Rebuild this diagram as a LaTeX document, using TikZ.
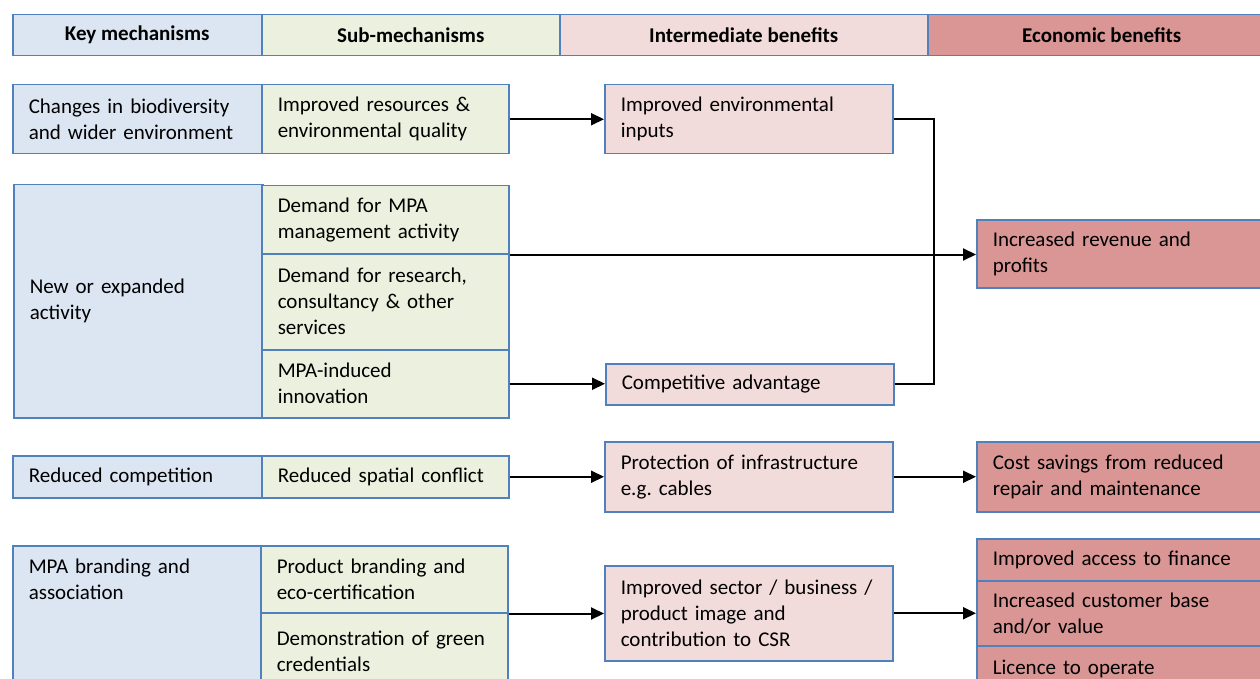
\documentclass[tikz,border=0pt]{standalone}
\usepackage{fontspec}
\setmainfont{Carlito}
\usetikzlibrary{arrows.meta}

\definecolor{cellborder}{HTML}{4F81BD}
\definecolor{keyfill}{HTML}{DCE6F2}
\definecolor{subfill}{HTML}{EBF1DE}
\definecolor{intfill}{HTML}{F2DCDB}
\definecolor{ecofill}{HTML}{D99694}

\tikzset{
  cell/.style={draw=cellborder, line width=1.5pt, anchor=north west, align=left,
    inner xsep=16pt, inner ysep=0pt, font=\fontsize{21}{26}\selectfont},
  head/.style={cell, align=center, minimum height=41pt, font=\fontsize{21}{26}\selectfont\bfseries},
  keycol/.style={cell, fill=keyfill, minimum width=249pt, text width=217pt},
  subcol/.style={cell, fill=subfill, minimum width=247pt, text width=215pt},
  intcol/.style={cell, fill=intfill, minimum width=288pt, text width=256pt},
  ecocol/.style={cell, fill=ecofill, minimum width=300pt, text width=268pt},
  flow/.style={-{Triangle[length=13pt,width=12pt]}, line width=2pt},
  link/.style={line width=2pt}
}

\begin{document}
\begin{tikzpicture}[x=1pt, y=-1pt]
  \useasboundingbox (0,0) rectangle (1260,679);
  \clip (0,0) rectangle (1260,679);

  % Column headings
  \node[head, fill=keyfill, minimum width=249pt] (hkey) at (12,14) {Key mechanisms};
  \node[head, fill=subfill, minimum width=298pt] (hsub) at (261,14) {Sub-mechanisms};
  \node[head, fill=intfill, minimum width=368pt] (hint) at (559,14) {Intermediate benefits};
  \node[head, fill=ecofill, minimum width=348pt] (heco) at (927,14) {Economic benefits};

  % Environment
  \node[keycol, minimum height=69pt] (k1) at (12,84) {Changes in biodiversity\\and wider environment};
  \node[subcol, minimum height=69pt] (s1) at (261,84) {Improved resources \&\\environmental quality};
  \node[intcol, minimum height=69pt] (i1) at (604,84) {Improved environmental\\inputs};

  % New activity
  \node[keycol, minimum height=233pt] (k2) at (13,184) {New or expanded\\activity};
  \node[subcol, minimum height=68pt] (s2a) at (261,185) {Demand for MPA\\management activity};
  \node[subcol, minimum height=96pt] (s2b) at (261,253) {Demand for research,\\consultancy \& other\\services};
  \node[subcol, minimum height=68pt] (s2c) at (261,349) {MPA-induced\\innovation};
  \node[intcol, minimum height=41pt] (i2) at (605,363) {Competitive advantage};
  \node[ecocol, minimum height=68pt] (e1) at (976,219) {Increased revenue and\\profits};

  % Competition
  \node[keycol, minimum height=42pt] (k3) at (12,455) {Reduced competition};
  \node[subcol, minimum height=42pt] (s3) at (261,455) {Reduced spatial conflict};
  \node[intcol, minimum height=70pt] (i3) at (604,441) {Protection of infrastructure\\e.g.\ cables};
  \node[ecocol, minimum height=70pt] (e2) at (976,441) {Cost savings from reduced\\repair and maintenance};

  % Branding
  \node[keycol, minimum width=248pt, inner ysep=13pt, text height=15pt, text depth=140pt] (k4) at (12,545) {MPA branding and\\association};
  \node[subcol, minimum height=67pt] (s4a) at (260,545) {Product branding and\\eco-certification};
  \node[subcol, minimum height=78pt] (s4b) at (260,612) {Demonstration of green\\credentials};
  \node[intcol, minimum height=95pt] (i4) at (604,565) {Improved sector / business /\\product image and\\contribution to CSR};
  \node[ecocol, minimum height=42pt] (e3a) at (976,538) {Improved access to finance};
  \node[ecocol, minimum height=65pt] (e3b) at (976,580) {Increased customer base\\and/or value};
  \node[ecocol, minimum height=46pt] (e3c) at (976,645) {Licence to operate};

  % Connectors
  \coordinate (jn) at (934,253);
  \draw[flow] (s1.east) -- (s1.east -| i1.west);
  \draw[link] (i1.east) -| (jn);
  \draw[link] (i2.east) -| (jn);
  \draw[flow] (s2a.south east) -- (s2a.south east -| e1.west);
  \draw[flow] (s2c.east) -- (s2c.east -| i2.west);
  \draw[flow] (s3.east) -- (s3.east -| i3.west);
  \draw[flow] (i3.east) -- (i3.east -| e2.west);
  \draw[flow] (s4a.south east) -- (s4a.south east -| i4.west);
  \draw[flow] (i4.east) -- (i4.east -| e3b.west);
\end{tikzpicture}
\end{document}
